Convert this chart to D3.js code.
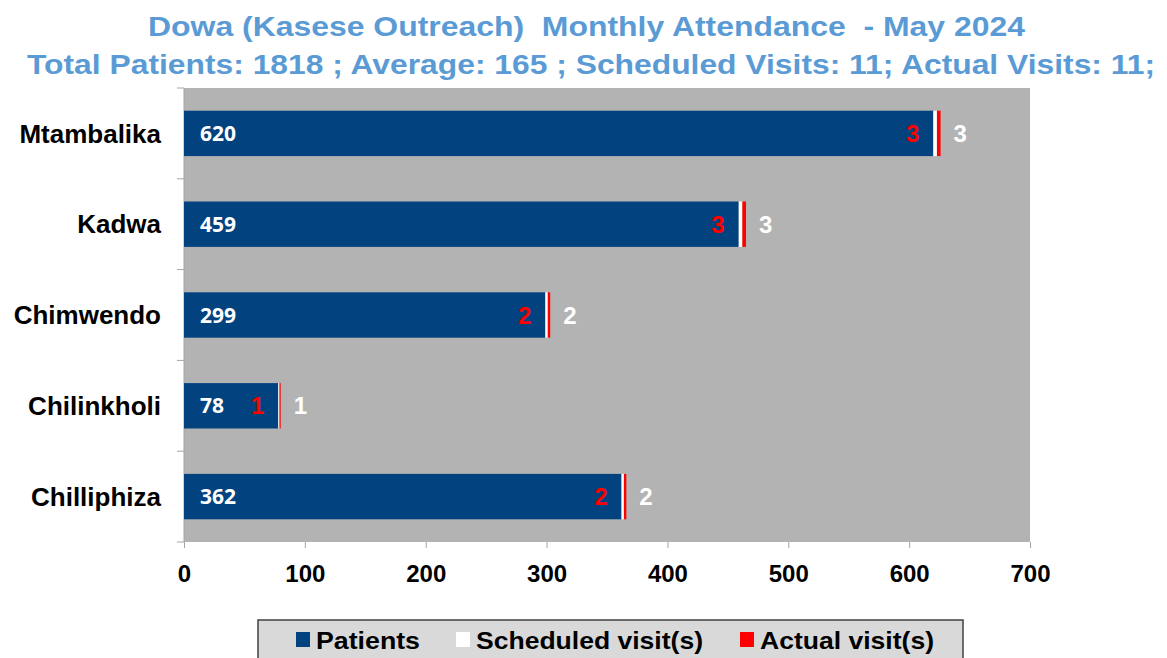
<!DOCTYPE html>
<html>
<head>
<meta charset="utf-8">
<script src="https://cdn.jsdelivr.net/npm/d3@7.9.0/dist/d3.min.js"></script>
<style>
  body { margin: 0; background: #fff; }
  text { font-family: "Liberation Sans", Arial, sans-serif; font-weight: bold; }
  text.plab { font-family: "Open Sans", "Noto Sans", sans-serif; }
</style>
</head>
<body>
<svg id="chart" width="1167" height="658"></svg>
<script>
// data
const sites = ['Mtambalika', 'Kadwa', 'Chimwendo', 'Chilinkholi', 'Chilliphiza'];
const patients = [620, 459, 299, 78, 362];
const scheduled = [3, 3, 2, 1, 2];
const actual = [3, 3, 2, 1, 2];
const xTicks = [0, 100, 200, 300, 400, 500, 600, 700];
const titleLines = [
  'Dowa (Kasese Outreach)  Monthly Attendance  - May 2024',
  'Total Patients: 1818 ; Average: 165 ; Scheduled Visits: 11; Actual Visits: 11;'
];
const legendItems = ['Patients', 'Scheduled visit(s)', 'Actual visit(s)'];

const colors = { patients: '#02427f', scheduled: '#ffffff', actual: '#ff0000' };

const svg = d3.select('#chart');
const plot = { left: 184, right: 1030, top: 88, bottom: 542 };

const x = d3.scaleLinear().domain([0, 700]).range([plot.left, plot.right]);
const y = d3.scaleBand().domain(sites).range([plot.top, plot.bottom])
  .paddingInner(0.5).paddingOuter(0.25);

// plot background
svg.append('rect')
  .attr('x', plot.left).attr('y', plot.top)
  .attr('width', plot.right - plot.left).attr('height', plot.bottom - plot.top)
  .attr('fill', '#b3b3b3');

// titles (the original is stretched sideways, so fit to its width)
const titleSpan = [[148, 1025], [27, 1155]];
svg.selectAll('.title').data(titleLines).enter().append('text')
  .attr('class', 'title')
  .attr('x', (d, i) => titleSpan[i][0]).attr('y', (d, i) => 36 + i * 38)
  .attr('font-size', 28)
  .attr('fill', '#5b9bd5')
  .attr('textLength', (d, i) => titleSpan[i][1] - titleSpan[i][0])
  .attr('lengthAdjust', 'spacingAndGlyphs')
  .style('white-space', 'pre')
  .text(d => d);

// axes
const xAxis = svg.append('g')
  .attr('transform', `translate(0,${plot.bottom})`)
  .call(d3.axisBottom(x).tickValues(xTicks).tickSize(6).tickPadding(17));
xAxis.selectAll('text').attr('font-size', 24).attr('fill', '#000');
xAxis.selectAll('line, path').attr('stroke', '#a6a6a6');
xAxis.select('.domain').remove();

const bandEdges = sites.map(s => y(s) - y.step() * y.paddingInner() / 2).concat([plot.bottom]);
svg.append('line')
  .attr('x1', plot.left).attr('x2', plot.left)
  .attr('y1', plot.top).attr('y2', plot.bottom)
  .attr('stroke', '#a6a6a6');
svg.selectAll('.ytick').data(bandEdges).enter().append('line')
  .attr('x1', plot.left - 7).attr('x2', plot.left)
  .attr('y1', d => d).attr('y2', d => d)
  .attr('stroke', '#a6a6a6');

svg.selectAll('.cat').data(sites).enter().append('text')
  .attr('x', 161)
  .attr('y', d => y(d) + y.bandwidth() / 2)
  .attr('dy', '0.35em')
  .attr('text-anchor', 'end')
  .attr('font-size', 26)
  .attr('fill', '#000')
  .text(d => d);

// stacked bars
const rows = sites.map((s, i) => ({ site: s, patients: patients[i], scheduled: scheduled[i], actual: actual[i] }));
const stack = d3.stack().keys(['patients', 'scheduled', 'actual'])(rows);

svg.selectAll('.layer').data(stack).enter().append('g')
  .attr('fill', d => colors[d.key])
  .selectAll('rect').data(d => d).enter().append('rect')
  .attr('x', d => x(d[0]))
  .attr('y', d => y(d.data.site))
  .attr('width', d => x(d[1]) - x(d[0]))
  .attr('height', y.bandwidth());

// labels
const mid = d => y(d.site) + y.bandwidth() / 2;
svg.selectAll('.plab').data(rows).enter().append('text')
  .attr('class', 'plab')
  .attr('x', plot.left + 16).attr('y', mid).attr('dy', '0.36em')
  .attr('font-size', 21).attr('fill', '#fff')
  .text(d => d.patients);
svg.selectAll('.alab').data(rows).enter().append('text')
  .attr('x', d => x(d.patients) - 14).attr('y', mid).attr('dy', '0.36em')
  .attr('text-anchor', 'end')
  .attr('font-size', 24).attr('fill', colors.actual)
  .text(d => d.actual);
svg.selectAll('.slab').data(rows).enter().append('text')
  .attr('x', d => x(d.patients + d.scheduled + d.actual) + 13).attr('y', mid).attr('dy', '0.36em')
  .attr('font-size', 24).attr('fill', '#fff')
  .text(d => d.scheduled);

// legend
const legend = svg.append('g');
legend.append('rect')
  .attr('x', 258).attr('y', 620).attr('width', 705).attr('height', 50)
  .attr('fill', '#d9d9d9').attr('stroke', '#404040').attr('stroke-width', 1.5);
const legendX = [296, 456, 740];
const legendW = [104, 227, 174];
const legendKeys = ['patients', 'scheduled', 'actual'];
legendItems.forEach((label, i) => {
  legend.append('rect')
    .attr('x', legendX[i]).attr('y', 632).attr('width', 14).attr('height', 15)
    .attr('fill', colors[legendKeys[i]]);
  legend.append('text')
    .attr('x', legendX[i] + 20).attr('y', 649)
    .attr('font-size', 24).attr('fill', '#000')
    .attr('textLength', legendW[i])
    .attr('lengthAdjust', 'spacingAndGlyphs')
    .text(label);
});
</script>
</body>
</html>
